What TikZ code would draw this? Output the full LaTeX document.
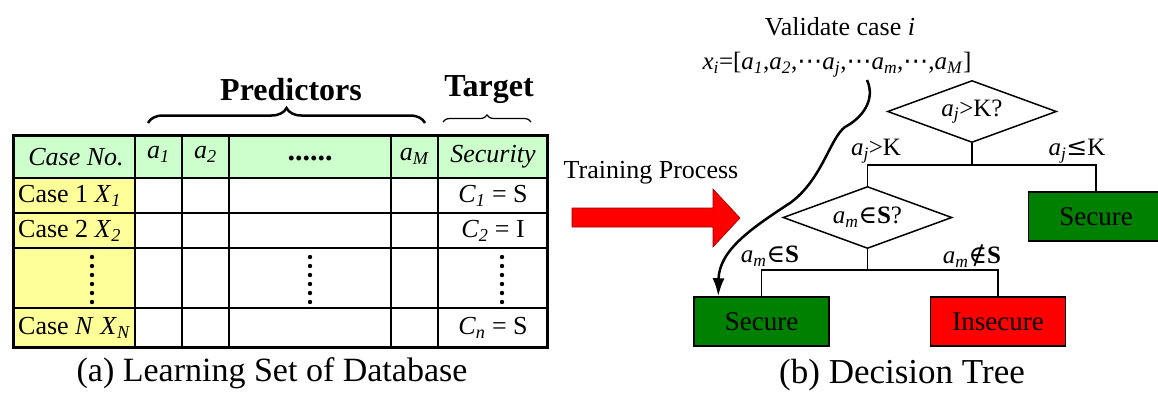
\RequirePackage{fix-cm}
\documentclass[tikz,border=0pt]{standalone}
\usepackage{fontspec}
\setmainfont{Liberation Serif}
\newfontfamily\symfont{DejaVu Serif}
\newfontfamily\dotsfont{DejaVu Sans}
\usetikzlibrary{arrows.meta,shapes.geometric,decorations.pathreplacing}
\definecolor{headgreen}{HTML}{CCFFCC}
\definecolor{caseyellow}{HTML}{FFFF99}
\definecolor{securegreen}{HTML}{008000}
\definecolor{insecurered}{HTML}{FF0000}
\newcommand{\attr}[1]{\textit{a}\textsubscript{\textit{#1}}}
\newcommand{\casevar}[2]{\textit{#1}\textsubscript{\textit{#2}}}
\newcommand{\sym}[1]{{\symfont #1}}
\newcommand{\mdots}{{\dotsfont ⋯}}

\tikzset{
  tabtext/.style={font=\fontsize{26}{30}\selectfont, inner sep=0pt},
  tagtext/.style={font=\bfseries\fontsize{32}{38}\selectfont, inner sep=0pt},
  decision/.style={diamond, draw, line width=1.5pt, aspect=2.7,
    minimum width=169pt, minimum height=62pt, inner sep=0pt,
    font=\fontsize{25}{30}\selectfont},
  leaf/.style={draw, line width=1.5pt, minimum width=135pt,
    minimum height=49pt, font=\fontsize{27}{32}\selectfont},
  branch/.style={font=\fontsize{25}{30}\selectfont, inner sep=0pt},
  caption/.style={font=\fontsize{34}{40}\selectfont, inner sep=0pt}
}

\begin{document}
\begin{tikzpicture}[x=1pt, y=-1pt]
\useasboundingbox (0,0) rectangle (1158,397);

% table of cases
\fill[headgreen] (13,135) rectangle (547,178);
\fill[caseyellow] (13,178) rectangle (135,347);
\foreach \x in {135, 182, 229, 391, 438}
\draw[line width=1.5pt] (\x,135) -- (\x,347);
\foreach \y in {213, 248, 308}
\draw[line width=1.5pt] (13,\y) -- (547,\y);
\draw[line width=2.2pt] (13,178) -- (547,178);
\draw[line width=3pt] (13,135) rectangle (547,347);

\node[tabtext] (hcase) at (76,157) {\textit{Case No.}};
\node[tabtext] (ha1) at (158.5,154) {\attr{1}};
\node[tabtext] (ha2) at (205.5,154) {\attr{2}};
\node[tabtext, font=\bfseries\fontsize{30}{36}\selectfont] (hdots) at (310,158) {......};
\node[tabtext] (haM) at (414.5,156) {\attr{M}};
\node[tabtext] (hsec) at (493,157) {\textit{Security}};

\node[tabtext, anchor=west] (case1) at (18,195.5) {Case 1 \casevar{X}{1}};
\node[tabtext, anchor=west] (case2) at (18,230.5) {Case 2 \casevar{X}{2}};
\node[tabtext, anchor=west] (caseN) at (18,327.5) {Case \textit{N} \casevar{X}{N}};
\node[tabtext] (c1) at (493,195.5) {\casevar{C}{1} = S};
\node[tabtext] (c2) at (493,230.5) {\casevar{C}{2} = I};
\node[tabtext] (cn) at (493,327.5) {\casevar{C}{n} = S};

\foreach \x in {92, 310, 502}
\foreach \y in {257, 266, ..., 302}
\fill (\x,\y) circle (2.2pt);

% braces over the columns
\node[tagtext] (pred) at (291,90) {Predictors};
\node[tagtext] (targ) at (489,90) {Target};
\draw[line width=2.5pt, decorate, decoration={brace, amplitude=15pt}]
  (148,123) -- (425,123);
\draw[line width=1.2pt, decorate, decoration={brace, amplitude=7pt}]
  (443,122) -- (531,122);

% training arrow
\node[tabtext, font=\fontsize{26}{30}\selectfont] (train) at (651,173) {Training Process};
\draw[fill=insecurered, draw=red!60!black, line width=0.6pt]
  (572,208) -- (713,208) -- (713,189) -- (740,218) -- (713,247)
  -- (713,227) -- (572,227) -- cycle;

% decision tree
\node[tabtext, font=\fontsize{26}{30}\selectfont] (valid) at (840,27) {Validate case \textit{i}};
\node[tabtext, font=\fontsize{25}{30}\selectfont] (xvec) at (837,65)
  {\casevar{x}{i}=[\attr{1},\attr{2},\mdots\attr{j},\mdots\attr{m},\mdots,\attr{M}]};

\node[decision] (q1) at (972,111.5) {\attr{j}>K?};
\node[decision] (q2) at (867.5,217.5) {\attr{m}\sym{∈}\textbf{S}?};
\node[leaf, fill=securegreen] (sec2) at (1096,216.5) {Secure};
\node[leaf, fill=securegreen] (sec1) at (761.5,321.5) {Secure};
\node[leaf, fill=insecurered] (insec) at (998,321.5) {Insecure};

\coordinate (b1) at (972,165);
\coordinate (b2) at (867.5,270);
\draw[line width=1.5pt] (q1.south) -- (b1);
\draw[line width=1.5pt] (q2.north) |- (b1) -| (sec2.north);
\draw[line width=1.5pt] (q2.south) -- (b2);
\draw[line width=1.5pt] (sec1.north) |- (b2) -| (insec.north);

\node[branch] (l1) at (876,151) {\attr{j}>K};
\node[branch] (r1) at (1077,151) {\attr{j}\sym{≤}K};
\node[branch] (l2) at (770,256) {\attr{m}\sym{∈}\textbf{S}};
\node[branch] (r2) at (972,256) {\attr{m}\sym{∉}\textbf{S}};

% path of the validated case
\coordinate (cstart) at (867,80);
\draw[line width=2.5pt, -{Latex[length=18pt, width=12pt]}] (cstart)
  .. controls (876,100) and (862,118) .. (845,127)
  .. controls (830,138) and (822,180) .. (790,203)
  .. controls (752,228) and (719,250) .. ([xshift=25pt]sec1.north west);

% captions
\node[caption] (capa) at (272,373) {(a) Learning Set of Database};
\node[caption, font=\fontsize{35}{42}\selectfont] (capb) at (902,375) {(b) Decision Tree};

\end{tikzpicture}
\end{document}
